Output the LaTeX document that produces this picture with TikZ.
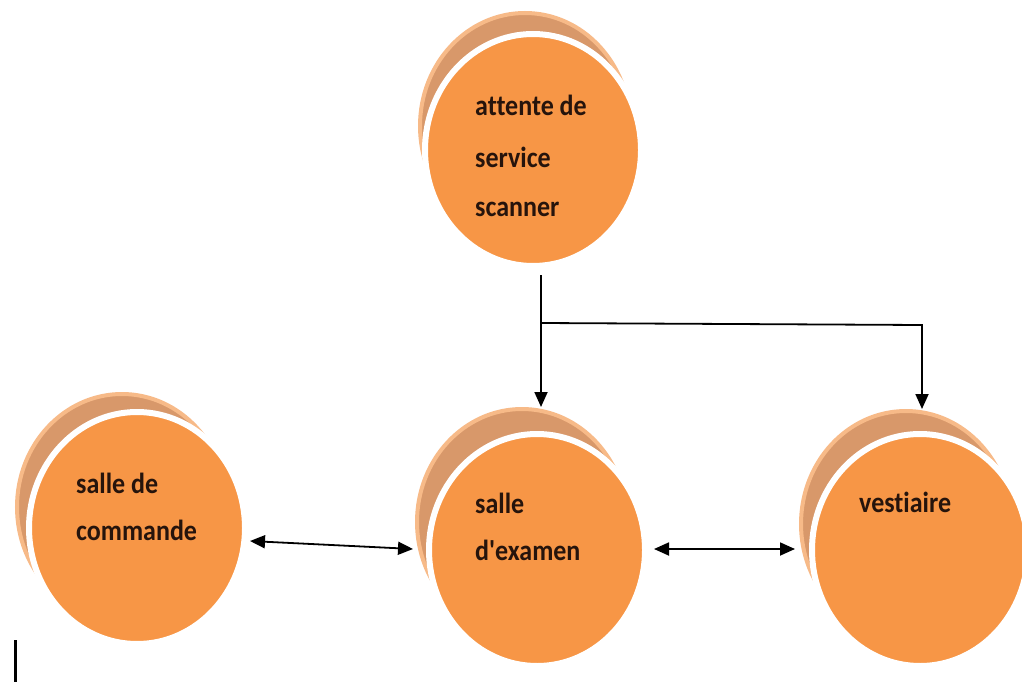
\documentclass[tikz,border=0pt]{standalone}
\usepackage{fontspec}
\setmainfont{Carlito}[Ligatures={TeXOff,NoCommon}]
\usetikzlibrary{arrows.meta,shapes.geometric,calc}

\definecolor{discorange}{RGB}{247,150,70}
\definecolor{disctan}{RGB}{216,152,106}
\definecolor{discrim}{RGB}{247,186,136}
\definecolor{labelink}{RGB}{38,20,12}

\tikzset{
  % front disc: orange face with a white ring
  disc/.style={ellipse, minimum width=216pt, minimum height=232pt, inner sep=0pt,
    fill=discorange, draw=white, line width=6pt},
  % shifted disc behind the face
  backdisc/.style={ellipse, minimum width=210pt, minimum height=226pt, inner sep=0pt,
    fill=disctan, draw=discrim, line width=4pt},
  lbl/.style={anchor=base west, inner sep=0pt,
    font=\bfseries\fontsize{26}{30}\selectfont, text=labelink},
  link/.style={draw=black, line width=1.8pt},
  tip/.style={-{Triangle[length=15pt,width=13pt]}},
  bitip/.style={{Triangle[length=15pt,width=13pt]}-{Triangle[length=15pt,width=13pt]}},
}
\newcommand{\tall}[1]{\scalebox{1}[1.12]{#1}}

\begin{document}
\begin{tikzpicture}[x=1pt,y=-1pt]
  \useasboundingbox[fill=white] (0,0) rectangle (1022,682);

  % back discs
  \node[backdisc] (topback)   at (525,126) {};
  \node[backdisc] (cmdback)   at (122,507) {};
  \node[backdisc] (midback)   at (522,522) {};
  \node[backdisc] (rightback) at (906,524) {};

  % front discs
  \node[disc] (top)   at (533,150) {};
  \node[disc] (cmd)   at (137,528) {};
  \node[disc] (mid)   at (537,550) {};
  \node[disc] (right) at (920,550) {};

  % labels
  \node[lbl] (top1) at (475,116) {\tall{attente de}};
  \node[lbl] (top2) at (475,167) {\tall{service}};
  \node[lbl] (top3) at (475,216) {\tall{scanner}};
  \node[lbl] (cmd1) at (76,493) {\tall{salle de}};
  \node[lbl] (cmd2) at (76,540) {\tall{commande}};
  \node[lbl] (mid1) at (475,513) {\tall{salle}};
  \node[lbl] (mid2) at (475,560) {\tall{d'examen}};
  \node[lbl] (right1) at (859,512) {\tall{vestiaire}};

  % fork from the scanner waiting area
  \coordinate (fork)  at (541,323);
  \coordinate (elbow) at (922,325);
  \draw[link] ($(top.south -| fork)+(0,6)$) -- (fork);
  \draw[link,tip] (fork) -- (fork |- midback.north);
  \draw[link,tip] (fork) -- (elbow) -- (elbow |- rightback.north);

  % two-way links
  \draw[link,bitip] ($(cmd.east)+(2,13)$) -- ($(midback.west)+(-2,27)$);
  \draw[link,bitip] ($(mid.east)+(6,-1)$) -- ($(rightback.west)+(-4,25)$);

  % small bar at the lower left
  \draw[line width=3pt] (15,640) -- (15,682);
\end{tikzpicture}
\end{document}
